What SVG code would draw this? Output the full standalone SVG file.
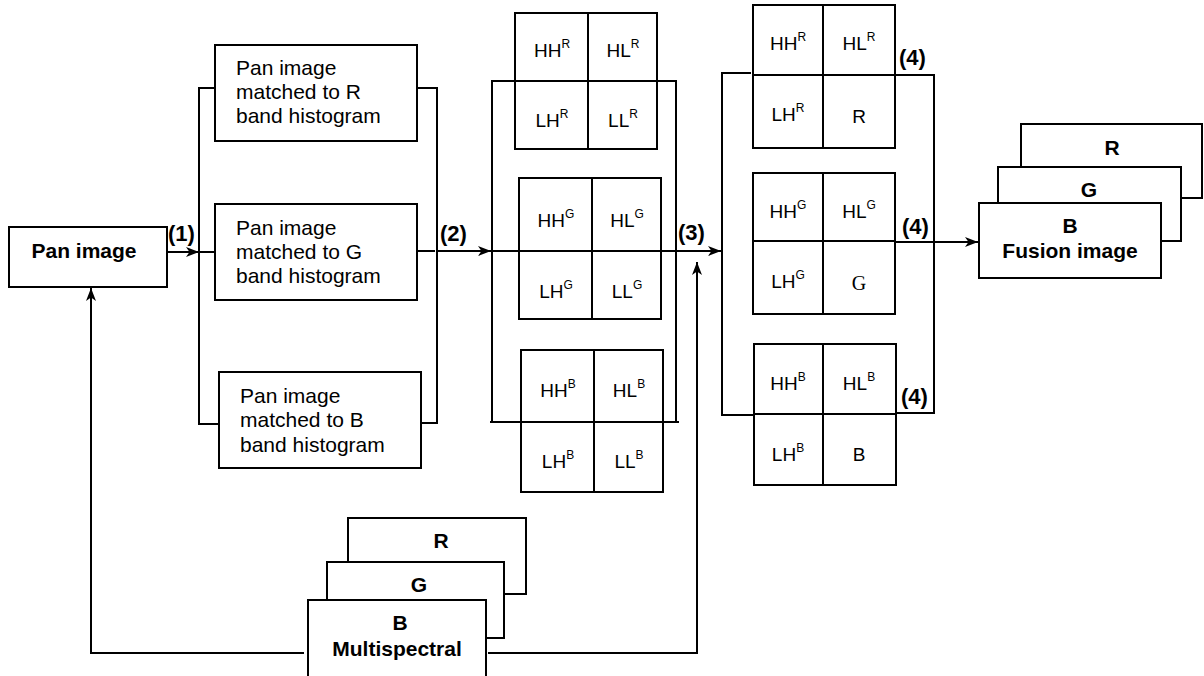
<svg xmlns="http://www.w3.org/2000/svg" width="1204" height="676" viewBox="0 0 1204 676">
<defs>
<style>
.bx{fill:#fff;stroke:#000;stroke-width:2}
.ln{fill:none;stroke:#000;stroke-width:2}
.t{font-family:"Liberation Sans",Arial,sans-serif;font-size:21px;fill:#000}
.b{font-family:"Liberation Sans",Arial,sans-serif;font-size:21px;font-weight:bold;fill:#000;text-anchor:middle}
.n{font-family:"Liberation Sans",Arial,sans-serif;font-size:22px;font-weight:bold;fill:#000}
.g{font-family:"Liberation Sans",Arial,sans-serif;font-size:19px;fill:#000;text-anchor:middle}
.gs{font-family:"Liberation Serif","Times New Roman",serif;font-size:20px;fill:#000;text-anchor:middle}
.s{font-size:12px}
</style>
<marker id="arr" markerWidth="13" markerHeight="10" refX="13" refY="5" orient="auto" markerUnits="userSpaceOnUse">
<path d="M0,0 L13,5 L0,10 L3.5,5 z" fill="#000"/>
</marker>
</defs>
<rect width="1204" height="676" fill="#fff"/>

<g id="connectors">
<!-- Pan image to bracket 1 -->
<line class="ln" x1="167" y1="252" x2="199" y2="252" marker-end="url(#arr)"/>
<path class="ln" d="M215,88 H199 V424 H219"/>
<line class="ln" x1="199" y1="252" x2="215" y2="252"/>
<!-- bracket 2 -->
<path class="ln" d="M417,88 H437 V423 H421"/>
<line class="ln" x1="417" y1="251" x2="435" y2="251"/>
<line class="ln" x1="437" y1="251" x2="491" y2="251" marker-end="url(#arr)"/>
<!-- wavelet bracket -->
<path class="ln" d="M492,422 V81 H676 V422"/>
<line class="ln" x1="490" y1="422" x2="679" y2="422"/>
<line class="ln" x1="491" y1="251" x2="721" y2="251" marker-end="url(#arr)"/>
<!-- bracket 3 -->
<path class="ln" d="M751,73 H722 V415 H753"/>
<path class="ln" d="M895,75 H934 V413 H895"/>
<line class="ln" x1="895" y1="242" x2="978" y2="242" marker-end="url(#arr)"/>
<!-- multispectral feed lines -->
<path class="ln" d="M304,653 H91 V288" marker-end="url(#arr)"/>
<path class="ln" d="M488,653 H697 V262" marker-end="url(#arr)"/>
</g>

<g id="labels">
<text class="n" x="168" y="241">(1)</text>
<text class="n" x="440" y="241">(2)</text>
<text class="n" x="678" y="240">(3)</text>
<text class="n" x="899" y="65">(4)</text>
<text class="n" x="902" y="234">(4)</text>
<text class="n" x="901" y="404">(4)</text>
</g>

<g id="pan-image">
<rect class="bx" x="9" y="227" width="158" height="60"/>
<text class="b" x="84" y="258">Pan image</text>
</g>

<g id="matched-R">
<rect class="bx" x="215" y="45" width="202" height="96"/>
<text class="t" x="236" y="75">Pan image</text>
<text class="t" x="236" y="99">matched to R</text>
<text class="t" x="236" y="123">band histogram</text>
</g>
<g id="matched-G">
<rect class="bx" x="215" y="204" width="202" height="96"/>
<text class="t" x="236" y="235">Pan image</text>
<text class="t" x="236" y="259">matched to G</text>
<text class="t" x="236" y="283">band histogram</text>
</g>
<g id="matched-B">
<rect class="bx" x="219" y="372" width="202" height="96"/>
<text class="t" x="240" y="403">Pan image</text>
<text class="t" x="240" y="427">matched to B</text>
<text class="t" x="240" y="452">band histogram</text>
</g>

<g id="wavelet-R">
<rect class="ln" x="515" y="13" width="142" height="136"/>
<line class="ln" x1="588" y1="13" x2="588" y2="149"/>
<line class="ln" x1="515" y1="81" x2="657" y2="81"/>
<text class="g" x="552" y="57">HH<tspan class="s" dy="-9">R</tspan></text>
<text class="g" x="623" y="57">HL<tspan class="s" dy="-9">R</tspan></text>
<text class="g" x="552" y="127">LH<tspan class="s" dy="-9">R</tspan></text>
<text class="g" x="623" y="127">LL<tspan class="s" dy="-9">R</tspan></text>
</g>
<g id="wavelet-G">
<rect class="ln" x="519" y="178" width="142" height="141"/>
<line class="ln" x1="592" y1="178" x2="592" y2="319"/>
<text class="g" x="556" y="227">HH<tspan class="s" dy="-9">G</tspan></text>
<text class="g" x="627" y="227">HL<tspan class="s" dy="-9">G</tspan></text>
<text class="g" x="556" y="298">LH<tspan class="s" dy="-9">G</tspan></text>
<text class="g" x="627" y="298">LL<tspan class="s" dy="-9">G</tspan></text>
</g>
<g id="wavelet-B">
<rect class="ln" x="521" y="350" width="142" height="142"/>
<line class="ln" x1="594" y1="350" x2="594" y2="492"/>
<text class="g" x="558" y="397">HH<tspan class="s" dy="-9">B</tspan></text>
<text class="g" x="629" y="397">HL<tspan class="s" dy="-9">B</tspan></text>
<text class="g" x="558" y="468">LH<tspan class="s" dy="-9">B</tspan></text>
<text class="g" x="629" y="468">LL<tspan class="s" dy="-9">B</tspan></text>
</g>

<g id="replaced-R">
<rect class="ln" x="753" y="5" width="142" height="143"/>
<line class="ln" x1="823" y1="5" x2="823" y2="148"/>
<line class="ln" x1="753" y1="75" x2="895" y2="75"/>
<text class="g" x="788" y="50">HH<tspan class="s" dy="-9">R</tspan></text>
<text class="g" x="859" y="50">HL<tspan class="s" dy="-9">R</tspan></text>
<text class="g" x="788" y="121">LH<tspan class="s" dy="-9">R</tspan></text>
<text class="g" x="859" y="123">R</text>
</g>
<g id="replaced-G">
<rect class="ln" x="753" y="173" width="142" height="141"/>
<line class="ln" x1="823" y1="173" x2="823" y2="314"/>
<line class="ln" x1="753" y1="241" x2="895" y2="241"/>
<text class="g" x="788" y="218">HH<tspan class="s" dy="-9">G</tspan></text>
<text class="g" x="859" y="218">HL<tspan class="s" dy="-9">G</tspan></text>
<text class="g" x="788" y="288">LH<tspan class="s" dy="-9">G</tspan></text>
<text class="gs" x="859" y="290">G</text>
</g>
<g id="replaced-B">
<rect class="ln" x="754" y="344" width="142" height="141"/>
<line class="ln" x1="823" y1="344" x2="823" y2="485"/>
<line class="ln" x1="754" y1="414" x2="896" y2="414"/>
<text class="g" x="788" y="390">HH<tspan class="s" dy="-9">B</tspan></text>
<text class="g" x="859" y="390">HL<tspan class="s" dy="-9">B</tspan></text>
<text class="g" x="788" y="461">LH<tspan class="s" dy="-9">B</tspan></text>
<text class="g" x="859" y="461">B</text>
</g>

<g id="fusion-image">
<rect class="bx" x="1021" y="124" width="181" height="74"/>
<text class="b" x="1112" y="155">R</text>
<rect class="bx" x="998" y="167" width="183" height="74"/>
<text class="b" x="1089" y="197">G</text>
<rect class="bx" x="979" y="203" width="182" height="75"/>
<text class="b" x="1070" y="233">B</text>
<text class="b" x="1070" y="258">Fusion image</text>
</g>

<g id="multispectral">
<rect class="bx" x="348" y="518" width="178" height="76"/>
<text class="b" x="441" y="548">R</text>
<rect class="bx" x="327" y="562" width="177" height="76"/>
<text class="b" x="419" y="592">G</text>
<rect class="bx" x="308" y="600" width="178" height="90"/>
<text class="b" x="400" y="630">B</text>
<text class="b" x="397" y="656">Multispectral</text>
</g>
</svg>
